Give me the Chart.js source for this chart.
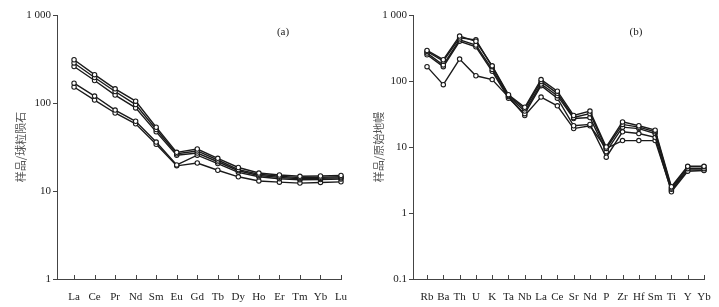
<!DOCTYPE html>
<html>
<head>
<meta charset="utf-8">
<script src="https://cdn.jsdelivr.net/npm/chart.js@4.4.1/dist/chart.umd.min.js"></script>
<style>
html,body{margin:0;padding:0;background:#fff;width:719px;height:307px;overflow:hidden;}
canvas{position:absolute;top:0;}
#c1{left:0;}
#c2{left:360px;}
</style>
</head>
<body>
<canvas id="c1" width="360" height="307"></canvas>
<canvas id="c2" width="359" height="307"></canvas>
<script>
// ---- (a) REE, chondrite-normalised ----
const reeCategories = ["La","Ce","Pr","Nd","Sm","Eu","Gd","Tb","Dy","Ho","Er","Tm","Yb","Lu"];
const reeSample1 = [310, 210, 145, 105, 53, 27.5, 30, 23.5, 18.5, 16, 15.2, 14.7, 14.8, 15];
const reeSample2 = [285, 195, 135, 96, 50, 26.5, 28.5, 22.5, 17.5, 15.5, 14.7, 14.2, 14.3, 14.5];
const reeSample3 = [260, 180, 123, 88, 47, 25.5, 27, 21.5, 17, 15, 14.3, 13.8, 13.9, 14.1];
const reeSample4 = [168, 120, 83, 62, 36, 19.8, 25.5, 20.5, 16.3, 14.5, 13.8, 13.4, 13.5, 13.7];
const reeSample5 = [152, 108, 77, 58, 34, 19.3, 20.8, 17.2, 14.5, 13, 12.6, 12.3, 12.5, 12.7];
const reeYTicks = [1, 10, 100, 1000];

// ---- (b) trace elements, primitive-mantle-normalised ----
const spiderCategories = ["Rb","Ba","Th","U","K","Ta","Nb","La","Ce","Sr","Nd","P","Zr","Hf","Sm","Ti","Y","Yb"];
const spiderSample1 = [290, 210, 480, 400, 170, 62, 40, 105, 70, 30, 35, 10, 24, 21, 18, 2.5, 5.1, 5.1];
const spiderSample2 = [280, 200, 450, 420, 165, 60, 38, 98, 65, 28, 32, 9.5, 22, 20, 17, 2.4, 5.0, 5.0];
const spiderSample3 = [265, 175, 420, 350, 150, 58, 35, 90, 60, 27, 28, 8.5, 20, 19, 16, 2.3, 4.7, 4.7];
const spiderSample4 = [250, 165, 400, 330, 140, 55, 32, 85, 55, 21, 22, 7, 17, 16, 14, 2.1, 4.3, 4.4];
const spiderSample5 = [165, 88, 215, 120, 105, 57, 30, 57, 42, 19, 21, 9.5, 12.5, 12.5, 12.5, 2.2, 4.5, 4.5];
const spiderYTicks = [0.1, 1, 10, 100, 1000];

const AXIS = '#444';
const LINE = '#1a1a1a';
const SERIF = "'Liberation Serif','Times New Roman',serif";
const CJK = "'Noto Sans CJK SC','Noto Sans CJK JP',sans-serif";

function fmt(v){
  if (v >= 1000) return '1 000';
  return String(v);
}

function makeDatasets(series){
  return series.map(vals => ({
    data: vals.map((v,i)=>({x:i, y:v})),
    borderColor: LINE,
    borderWidth: 1.4,
    pointRadius: 2.2,
    pointBorderWidth: 1.1,
    pointBorderColor: LINE,
    pointBackgroundColor: '#fff',
    fill: false,
    tension: 0,
    clip: false
  }));
}

const upTicks = {
  id: 'upTicks',
  afterDraw(chart, args, opts){
    const ctx = chart.ctx, xs = chart.scales.x, bottom = chart.chartArea.bottom;
    ctx.save();
    ctx.strokeStyle = AXIS; ctx.lineWidth = 1;
    opts.cats.forEach((c,i)=>{
      const px = Math.round(xs.getPixelForValue(i)) + 0.5;
      ctx.beginPath(); ctx.moveTo(px, bottom); ctx.lineTo(px, bottom - 4); ctx.stroke();
    });
    ctx.fillStyle = '#222';
    ctx.font = "11px " + SERIF;
    ctx.textAlign = 'center'; ctx.textBaseline = 'middle';
    ctx.fillText(opts.tag, opts.tagX, opts.tagY);
    ctx.restore();
  }
};

function makeChart(id, cats, series, yTicks, yMin, yMax, cfg){
  return new Chart(document.getElementById(id), {
    type: 'line',
    data: { datasets: makeDatasets(series) },
    plugins: [upTicks],
    options: {
      responsive: false,
      animation: false,
      devicePixelRatio: 1,
      layout: { padding: { left: 0, right: cfg.padRight, top: 15, bottom: 0 } },
      plugins: {
        legend: { display: false },
        tooltip: { enabled: false },
        upTicks: { cats: cats, tag: cfg.tag, tagX: cfg.tagX, tagY: 32 }
      },
      scales: {
        x: {
          type: 'linear',
          min: cfg.xMin, max: cats.length - 1,
          afterBuildTicks: s => { s.ticks = cats.map((c,i)=>({value:i})); },
          afterFit: s => { s.height = 28; },
          ticks: {
            autoSkip: false, maxRotation: 0, padding: 4,
            color: '#222', font: { family: SERIF, size: 11 },
            callback: v => cats[v]
          },
          grid: { display: false },
          border: { display: true, color: AXIS, width: 1 }
        },
        y: {
          type: 'logarithmic',
          min: yMin, max: yMax,
          afterBuildTicks: s => { s.ticks = yTicks.map(v=>({value:v})); },
          afterFit: s => { s.width = cfg.yWidth; },
          ticks: {
            padding: 2, color: '#222', font: { family: SERIF, size: 11 },
            callback: v => fmt(v)
          },
          grid: { display: true, drawOnChartArea: false, drawTicks: true, tickLength: 4, color: AXIS, lineWidth: 1 },
          border: { display: true, color: AXIS, width: 1 },
          title: {
            display: true, text: cfg.yTitle, color: '#555',
            font: { family: CJK, size: 11 },
            padding: { top: cfg.titlePad, bottom: 0 }
          }
        }
      }
    }
  });
}

makeChart('c1', reeCategories,
  [reeSample1, reeSample2, reeSample3, reeSample4, reeSample5],
  reeYTicks, 1, 1000,
  { padRight: 19, xMin: -0.83, yWidth: 57, yTitle: '样品/球粒陨石', titlePad: 14, tag: '(a)', tagX: 283 });

makeChart('c2', spiderCategories,
  [spiderSample1, spiderSample2, spiderSample3, spiderSample4, spiderSample5],
  spiderYTicks, 0.1, 1000,
  { padRight: 15, xMin: -0.86, yWidth: 53, yTitle: '样品/原始地幔', titlePad: 12, tag: '(b)', tagX: 276 });
</script>
</body>
</html>
